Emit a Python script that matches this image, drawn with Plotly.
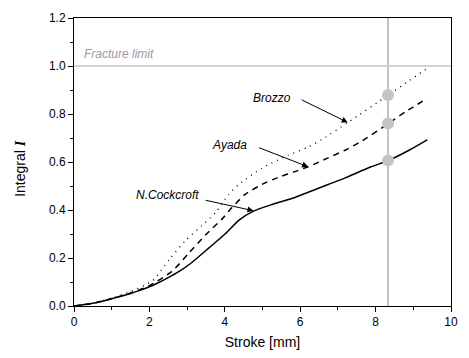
import plotly.graph_objects as go

# Stroke [mm] and damage integral for the three criteria
stroke_cockcroft = [0, 0.5, 1.0, 1.5, 1.75, 2.0, 2.25, 2.5, 2.8, 3.1, 3.58, 4.02, 4.37, 4.76,
                    5.16, 5.42, 5.86, 6.3, 6.74, 7.18, 7.88, 8.34, 8.9, 9.37]
integral_cockcroft = [0, 0.011, 0.03, 0.052, 0.065, 0.08, 0.098, 0.118, 0.145, 0.178, 0.242, 0.302, 0.357, 0.395,
                      0.418, 0.431, 0.452, 0.479, 0.506, 0.533, 0.58, 0.606, 0.65, 0.692]

stroke_ayada = [0, 0.5, 1.0, 1.5, 2.0, 2.61, 3.05, 3.49, 3.93, 4.19, 4.54, 4.98,
                5.4, 5.86, 6.21, 6.74, 7.2, 7.61, 8.34, 8.8, 9.37]
integral_ayada = [0, 0.011, 0.031, 0.054, 0.085, 0.146, 0.221, 0.296, 0.363, 0.41, 0.465, 0.506,
                  0.535, 0.56, 0.58, 0.617, 0.65, 0.685, 0.76, 0.81, 0.865]

stroke_brozzo = [0, 0.5, 1.0, 1.5, 2.09, 2.53, 2.97, 3.4, 3.76, 4.1, 4.37, 4.98,
                 5.68, 6.21, 6.6, 7.26, 8.34, 8.9, 9.37]
integral_brozzo = [0, 0.012, 0.033, 0.06, 0.106, 0.194, 0.275, 0.336, 0.39, 0.465, 0.506, 0.574,
                   0.628, 0.662, 0.696, 0.764, 0.879, 0.94, 0.99]

fracture_limit = 1.0
fracture_stroke = 8.33
fracture_integrals = [0.879, 0.76, 0.606]

x_ticks = [0, 2, 4, 6, 8, 10]
y_ticks = [0.0, 0.2, 0.4, 0.6, 0.8, 1.0, 1.2]

FONT = "Liberation Sans, Arial, sans-serif"
GREY = "#c4c4c4"

fig = go.Figure()

fig.add_trace(go.Scatter(x=stroke_brozzo, y=integral_brozzo, mode="lines",
                         line=dict(color="black", width=1.3, dash="1px,5px",
                                   shape="spline", smoothing=0.6),
                         showlegend=False))
fig.add_trace(go.Scatter(x=stroke_ayada, y=integral_ayada, mode="lines",
                         line=dict(color="black", width=1.5, dash="6px,5px",
                                   shape="spline", smoothing=0.6),
                         showlegend=False))
fig.add_trace(go.Scatter(x=stroke_cockcroft, y=integral_cockcroft, mode="lines",
                         line=dict(color="black", width=1.5, shape="spline", smoothing=0.6),
                         showlegend=False))

# Fracture limit and fracture stroke reference lines
fig.add_shape(type="line", xref="x", yref="y", x0=0, x1=10, y0=fracture_limit, y1=fracture_limit,
              line=dict(color=GREY, width=1.5), layer="below")
fig.add_shape(type="line", xref="x", yref="y", x0=fracture_stroke, x1=fracture_stroke, y0=0, y1=1.2,
              line=dict(color=GREY, width=2), layer="below")

fig.add_trace(go.Scatter(x=[fracture_stroke] * len(fracture_integrals), y=fracture_integrals,
                         mode="markers", marker=dict(color=GREY, size=12),
                         showlegend=False))

label_font = dict(family=FONT, size=12, color="black")

# Curve labels with pointer arrows
labels = [
    ("Brozzo", 5.25, 0.867, 6.0, 0.862, 7.26, 0.765),
    ("Ayada", 4.12, 0.671, 4.87, 0.662, 6.21, 0.58),
    ("N.Cockcroft", 2.47, 0.461, 3.45, 0.442, 4.76, 0.397),
]
for name, tx, ty, ax, ay, hx, hy in labels:
    fig.add_annotation(x=tx, y=ty, xref="x", yref="y", text=f"<i>{name}</i>",
                       showarrow=False, font=label_font)
    fig.add_annotation(x=hx, y=hy, ax=ax, ay=ay, xref="x", yref="y", axref="x", ayref="y",
                       text="", showarrow=True, arrowhead=2, arrowsize=1.2, arrowwidth=1,
                       arrowcolor="black", standoff=0)

fig.add_annotation(x=0.2, y=1.052, xref="x", yref="y", xanchor="left", yanchor="middle",
                   text="<i>Fracture limit</i>", showarrow=False,
                   font=dict(family=FONT, size=12, color="#9a9a9a"))

# Y-axis title
fig.add_annotation(x=-0.142, y=0.478, xref="paper", yref="paper", xanchor="center", yanchor="middle",
                   textangle=-90, showarrow=False,
                   text="Integral <span style='font-family:Liberation Serif'><b><i>I</i></b></span>",
                   font=dict(family=FONT, size=14, color="black"))

axis_common = dict(
    showline=True, linecolor="black", linewidth=1, mirror=True,
    ticks="outside", ticklen=5, tickwidth=1, tickcolor="black",
    showgrid=False, zeroline=False,
    tickfont=dict(family=FONT, size=12, color="black"),
)

fig.update_xaxes(range=[0, 10], tickvals=x_ticks, ticktext=[str(v) for v in x_ticks],
                 minor=dict(dtick=1, ticks="outside", ticklen=3, tickcolor="black"),
                 title=dict(text="Stroke [mm]", font=dict(family=FONT, size=14, color="black"),
                            standoff=8),
                 **axis_common)
fig.update_yaxes(range=[0, 1.2], tickvals=y_ticks, ticktext=[f"{v:.1f}" for v in y_ticks],
                 minor=dict(dtick=0.1, ticks="outside", ticklen=3, tickcolor="black"),
                 **axis_common)

fig.update_layout(
    width=469, height=358,
    margin=dict(l=74, r=14, t=11, b=52),
    plot_bgcolor="white", paper_bgcolor="white",
    showlegend=False,
)

fig.write_html("out.html")
